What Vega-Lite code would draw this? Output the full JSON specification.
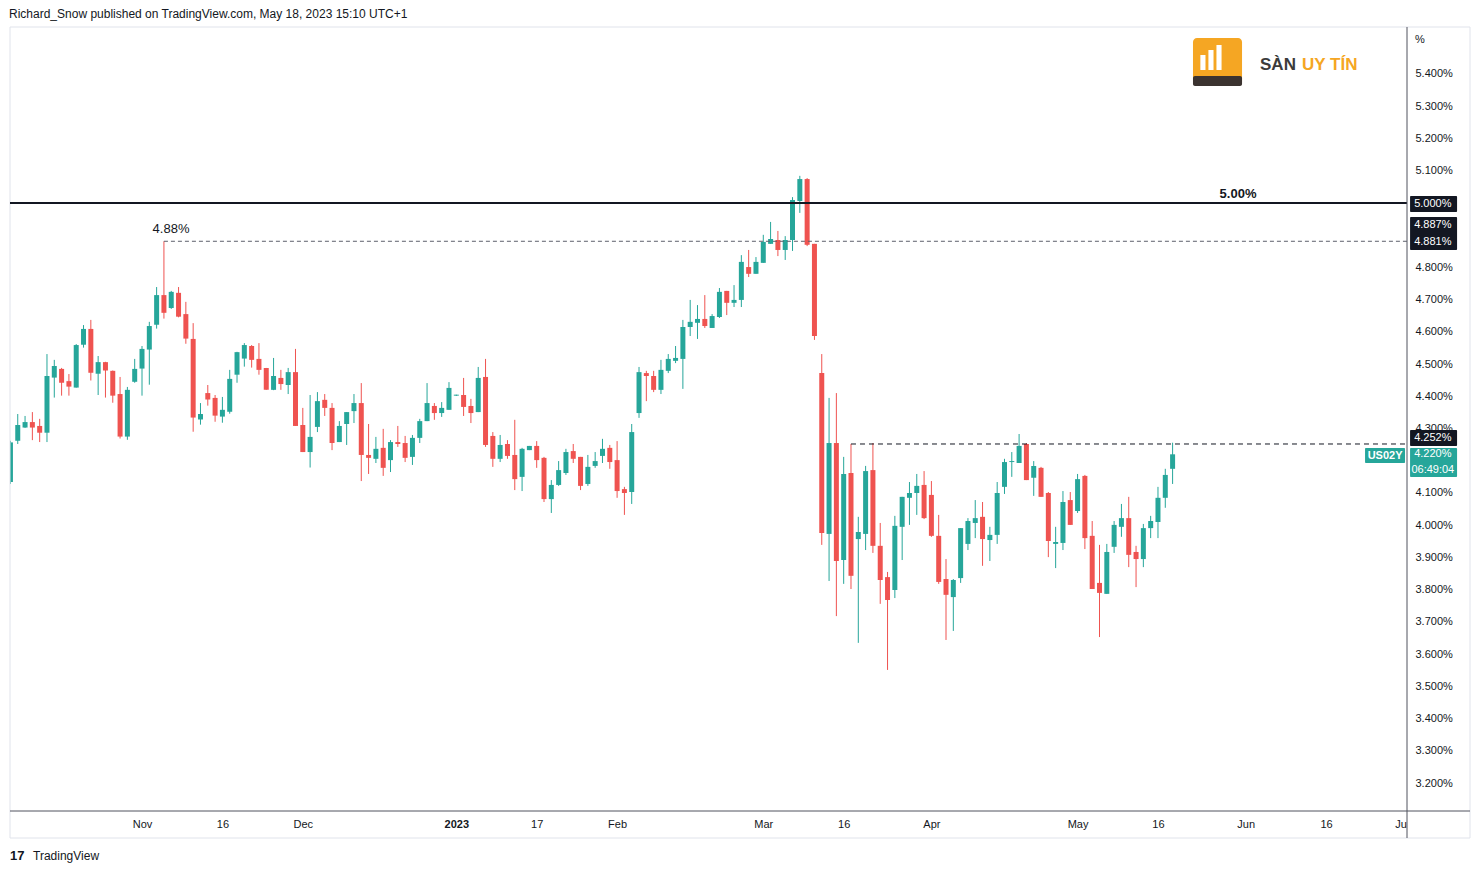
{
  "$schema": "https://vega.github.io/schema/vega-lite/v6.json",
  "width": 1397,
  "height": 784,
  "autosize": {"type": "none"},
  "padding": {"left": 10, "top": 27, "right": 74, "bottom": 63},
  "background": "white",
  "title": {"text": "Richard_Snow published on TradingView.com, May 18, 2023 15:10 UTC+1", "anchor": "start", "fontSize": 12, "fontWeight": "normal", "color": "#131722", "font": "Liberation Sans", "offset": 6},
  "config": {
    "view": {"stroke": null},
    "font": "Liberation Sans",
    "axis": {"grid": false, "ticks": false, "tickSize": 0, "domain": false, "labelFont": "Liberation Sans", "labelFontSize": 11, "labelColor": "#131722", "labelOverlap": false}
  },
  "datasets": {
    "candles": [
      {"i":-18,"o":4.134,"h":4.262,"l":4.128,"c":4.257},
      {"i":-17,"o":4.262,"h":4.345,"l":4.252,"c":4.311},
      {"i":-16,"o":4.303,"h":4.339,"l":4.302,"c":4.320},
      {"i":-15,"o":4.320,"h":4.351,"l":4.264,"c":4.303},
      {"i":-14,"o":4.308,"h":4.330,"l":4.258,"c":4.287},
      {"i":-13,"o":4.287,"h":4.531,"l":4.258,"c":4.463},
      {"i":-12,"o":4.458,"h":4.513,"l":4.396,"c":4.494},
      {"i":-11,"o":4.485,"h":4.488,"l":4.402,"c":4.442},
      {"i":-10,"o":4.447,"h":4.469,"l":4.402,"c":4.430},
      {"i":-9,"o":4.427,"h":4.562,"l":4.427,"c":4.559},
      {"i":-8,"o":4.560,"h":4.621,"l":4.551,"c":4.609},
      {"i":-7,"o":4.609,"h":4.637,"l":4.449,"c":4.473},
      {"i":-6,"o":4.470,"h":4.525,"l":4.404,"c":4.506},
      {"i":-5,"o":4.506,"h":4.507,"l":4.396,"c":4.480},
      {"i":-4,"o":4.479,"h":4.480,"l":4.380,"c":4.402},
      {"i":-3,"o":4.407,"h":4.460,"l":4.269,"c":4.275},
      {"i":-2,"o":4.275,"h":4.429,"l":4.265,"c":4.420},
      {"i":-1,"o":4.445,"h":4.516,"l":4.442,"c":4.485},
      {"i":0,"o":4.486,"h":4.556,"l":4.402,"c":4.547},
      {"i":1,"o":4.545,"h":4.631,"l":4.436,"c":4.618},
      {"i":2,"o":4.622,"h":4.739,"l":4.610,"c":4.714},
      {"i":3,"o":4.714,"h":4.881,"l":4.641,"c":4.659},
      {"i":4,"o":4.674,"h":4.727,"l":4.671,"c":4.724},
      {"i":5,"o":4.721,"h":4.739,"l":4.645,"c":4.647},
      {"i":6,"o":4.655,"h":4.693,"l":4.563,"c":4.579},
      {"i":7,"o":4.578,"h":4.627,"l":4.290,"c":4.334},
      {"i":8,"o":4.328,"h":4.379,"l":4.312,"c":4.345},
      {"i":9,"o":4.410,"h":4.435,"l":4.371,"c":4.390},
      {"i":10,"o":4.395,"h":4.404,"l":4.321,"c":4.340},
      {"i":11,"o":4.337,"h":4.398,"l":4.318,"c":4.358},
      {"i":12,"o":4.352,"h":4.482,"l":4.346,"c":4.454},
      {"i":13,"o":4.467,"h":4.538,"l":4.442,"c":4.537},
      {"i":14,"o":4.517,"h":4.565,"l":4.492,"c":4.559},
      {"i":15,"o":4.556,"h":4.559,"l":4.489,"c":4.513},
      {"i":16,"o":4.516,"h":4.565,"l":4.467,"c":4.482},
      {"i":17,"o":4.488,"h":4.488,"l":4.420,"c":4.420},
      {"i":18,"o":4.420,"h":4.519,"l":4.419,"c":4.463},
      {"i":19,"o":4.457,"h":4.482,"l":4.420,"c":4.438},
      {"i":20,"o":4.435,"h":4.488,"l":4.407,"c":4.475},
      {"i":21,"o":4.475,"h":4.547,"l":4.308,"c":4.308},
      {"i":22,"o":4.311,"h":4.364,"l":4.227,"c":4.227},
      {"i":23,"o":4.227,"h":4.404,"l":4.179,"c":4.274},
      {"i":24,"o":4.305,"h":4.413,"l":4.289,"c":4.385},
      {"i":25,"o":4.389,"h":4.407,"l":4.339,"c":4.364},
      {"i":26,"o":4.364,"h":4.379,"l":4.233,"c":4.255},
      {"i":27,"o":4.258,"h":4.323,"l":4.258,"c":4.308},
      {"i":28,"o":4.314,"h":4.351,"l":4.249,"c":4.351},
      {"i":29,"o":4.354,"h":4.407,"l":4.317,"c":4.379},
      {"i":30,"o":4.379,"h":4.441,"l":4.137,"c":4.218},
      {"i":31,"o":4.218,"h":4.314,"l":4.159,"c":4.209},
      {"i":32,"o":4.206,"h":4.274,"l":4.193,"c":4.237},
      {"i":33,"o":4.240,"h":4.299,"l":4.153,"c":4.178},
      {"i":34,"o":4.202,"h":4.264,"l":4.165,"c":4.258},
      {"i":35,"o":4.258,"h":4.308,"l":4.243,"c":4.252},
      {"i":36,"o":4.255,"h":4.277,"l":4.196,"c":4.209},
      {"i":37,"o":4.212,"h":4.280,"l":4.187,"c":4.271},
      {"i":38,"o":4.271,"h":4.330,"l":4.255,"c":4.323},
      {"i":39,"o":4.323,"h":4.441,"l":4.323,"c":4.379},
      {"i":40,"o":4.370,"h":4.379,"l":4.327,"c":4.348},
      {"i":41,"o":4.348,"h":4.382,"l":4.336,"c":4.364},
      {"i":42,"o":4.358,"h":4.444,"l":4.358,"c":4.426},
      {"i":43,"o":4.402,"h":4.405,"l":4.401,"c":4.405},
      {"i":44,"o":4.404,"h":4.457,"l":4.339,"c":4.367},
      {"i":45,"o":4.370,"h":4.392,"l":4.317,"c":4.348},
      {"i":46,"o":4.351,"h":4.491,"l":4.351,"c":4.457},
      {"i":47,"o":4.460,"h":4.516,"l":4.243,"c":4.249},
      {"i":48,"o":4.277,"h":4.289,"l":4.181,"c":4.206},
      {"i":49,"o":4.206,"h":4.280,"l":4.196,"c":4.249},
      {"i":50,"o":4.252,"h":4.264,"l":4.206,"c":4.215},
      {"i":51,"o":4.218,"h":4.327,"l":4.109,"c":4.143},
      {"i":52,"o":4.150,"h":4.240,"l":4.106,"c":4.237},
      {"i":53,"o":4.233,"h":4.246,"l":4.233,"c":4.246},
      {"i":54,"o":4.246,"h":4.261,"l":4.178,"c":4.202},
      {"i":55,"o":4.209,"h":4.212,"l":4.072,"c":4.081},
      {"i":56,"o":4.081,"h":4.140,"l":4.038,"c":4.125},
      {"i":57,"o":4.125,"h":4.199,"l":4.122,"c":4.171},
      {"i":58,"o":4.162,"h":4.237,"l":4.156,"c":4.227},
      {"i":59,"o":4.230,"h":4.252,"l":4.193,"c":4.206},
      {"i":60,"o":4.212,"h":4.212,"l":4.109,"c":4.122},
      {"i":61,"o":4.128,"h":4.218,"l":4.122,"c":4.181},
      {"i":62,"o":4.184,"h":4.227,"l":4.178,"c":4.199},
      {"i":63,"o":4.215,"h":4.268,"l":4.193,"c":4.237},
      {"i":64,"o":4.240,"h":4.249,"l":4.175,"c":4.196},
      {"i":65,"o":4.202,"h":4.261,"l":4.085,"c":4.106},
      {"i":66,"o":4.112,"h":4.119,"l":4.032,"c":4.100},
      {"i":67,"o":4.103,"h":4.314,"l":4.066,"c":4.289},
      {"i":68,"o":4.348,"h":4.491,"l":4.333,"c":4.475},
      {"i":69,"o":4.472,"h":4.479,"l":4.385,"c":4.463},
      {"i":70,"o":4.463,"h":4.479,"l":4.413,"c":4.420},
      {"i":71,"o":4.420,"h":4.513,"l":4.407,"c":4.482},
      {"i":72,"o":4.479,"h":4.531,"l":4.472,"c":4.516},
      {"i":73,"o":4.510,"h":4.556,"l":4.503,"c":4.519},
      {"i":74,"o":4.516,"h":4.637,"l":4.423,"c":4.615},
      {"i":75,"o":4.615,"h":4.699,"l":4.587,"c":4.631},
      {"i":76,"o":4.628,"h":4.683,"l":4.578,"c":4.640},
      {"i":77,"o":4.640,"h":4.714,"l":4.612,"c":4.618},
      {"i":78,"o":4.612,"h":4.655,"l":4.612,"c":4.649},
      {"i":79,"o":4.646,"h":4.736,"l":4.643,"c":4.724},
      {"i":80,"o":4.727,"h":4.727,"l":4.652,"c":4.690},
      {"i":81,"o":4.690,"h":4.745,"l":4.677,"c":4.699},
      {"i":82,"o":4.699,"h":4.838,"l":4.677,"c":4.817},
      {"i":83,"o":4.801,"h":4.854,"l":4.770,"c":4.780},
      {"i":84,"o":4.780,"h":4.832,"l":4.780,"c":4.817},
      {"i":85,"o":4.814,"h":4.901,"l":4.814,"c":4.879},
      {"i":86,"o":4.873,"h":4.941,"l":4.873,"c":4.888},
      {"i":87,"o":4.885,"h":4.913,"l":4.835,"c":4.854},
      {"i":88,"o":4.854,"h":4.897,"l":4.823,"c":4.885},
      {"i":89,"o":4.885,"h":5.018,"l":4.851,"c":5.009},
      {"i":90,"o":5.006,"h":5.084,"l":4.969,"c":5.074},
      {"i":91,"o":5.074,"h":5.077,"l":4.866,"c":4.870},
      {"i":92,"o":4.873,"h":4.873,"l":4.575,"c":4.587},
      {"i":93,"o":4.472,"h":4.531,"l":3.939,"c":3.976},
      {"i":94,"o":3.973,"h":4.395,"l":3.827,"c":4.255},
      {"i":95,"o":4.255,"h":4.410,"l":3.718,"c":3.889},
      {"i":96,"o":3.892,"h":4.212,"l":3.818,"c":4.159},
      {"i":97,"o":4.162,"h":4.252,"l":3.802,"c":3.843},
      {"i":98,"o":3.957,"h":4.026,"l":3.635,"c":3.979},
      {"i":99,"o":3.973,"h":4.184,"l":3.923,"c":4.168},
      {"i":100,"o":4.171,"h":4.255,"l":3.914,"c":3.936},
      {"i":101,"o":3.936,"h":4.007,"l":3.756,"c":3.830},
      {"i":102,"o":3.839,"h":3.855,"l":3.551,"c":3.768},
      {"i":103,"o":3.799,"h":4.029,"l":3.774,"c":3.998},
      {"i":104,"o":3.995,"h":4.088,"l":3.892,"c":4.088},
      {"i":105,"o":4.085,"h":4.134,"l":4.001,"c":4.100},
      {"i":106,"o":4.100,"h":4.159,"l":4.032,"c":4.122},
      {"i":107,"o":4.125,"h":4.168,"l":4.019,"c":4.022},
      {"i":108,"o":4.094,"h":4.137,"l":3.964,"c":3.967},
      {"i":109,"o":3.967,"h":4.032,"l":3.818,"c":3.824},
      {"i":110,"o":3.833,"h":3.895,"l":3.644,"c":3.784},
      {"i":111,"o":3.777,"h":3.833,"l":3.672,"c":3.830},
      {"i":112,"o":3.836,"h":3.991,"l":3.821,"c":3.991},
      {"i":113,"o":3.942,"h":4.022,"l":3.923,"c":4.013},
      {"i":114,"o":4.007,"h":4.078,"l":3.960,"c":4.022},
      {"i":115,"o":4.026,"h":4.072,"l":3.874,"c":3.957},
      {"i":116,"o":3.954,"h":3.995,"l":3.889,"c":3.970},
      {"i":117,"o":3.970,"h":4.134,"l":3.942,"c":4.100},
      {"i":118,"o":4.119,"h":4.206,"l":4.097,"c":4.196},
      {"i":119,"o":4.196,"h":4.227,"l":4.150,"c":4.199},
      {"i":120,"o":4.193,"h":4.283,"l":4.193,"c":4.246},
      {"i":121,"o":4.252,"h":4.255,"l":4.140,"c":4.140},
      {"i":122,"o":4.147,"h":4.199,"l":4.091,"c":4.184},
      {"i":123,"o":4.178,"h":4.181,"l":4.088,"c":4.088},
      {"i":124,"o":4.100,"h":4.103,"l":3.901,"c":3.951},
      {"i":125,"o":3.942,"h":3.995,"l":3.867,"c":3.948},
      {"i":126,"o":3.945,"h":4.106,"l":3.923,"c":4.072},
      {"i":127,"o":4.078,"h":4.103,"l":4.001,"c":4.001},
      {"i":128,"o":4.044,"h":4.159,"l":4.038,"c":4.143},
      {"i":129,"o":4.153,"h":4.156,"l":3.926,"c":3.960},
      {"i":130,"o":3.967,"h":4.013,"l":3.802,"c":3.802},
      {"i":131,"o":3.821,"h":3.939,"l":3.653,"c":3.790},
      {"i":132,"o":3.787,"h":3.942,"l":3.787,"c":3.917},
      {"i":133,"o":3.933,"h":4.013,"l":3.914,"c":4.001},
      {"i":134,"o":3.995,"h":4.066,"l":3.964,"c":4.022},
      {"i":135,"o":4.022,"h":4.088,"l":3.870,"c":3.908},
      {"i":136,"o":3.917,"h":3.936,"l":3.808,"c":3.895},
      {"i":137,"o":3.895,"h":4.004,"l":3.870,"c":3.991},
      {"i":138,"o":3.991,"h":4.029,"l":3.960,"c":4.013},
      {"i":139,"o":4.010,"h":4.119,"l":3.960,"c":4.085},
      {"i":140,"o":4.085,"h":4.175,"l":4.054,"c":4.156},
      {"i":141,"o":4.175,"h":4.256,"l":4.128,"c":4.220}
    ],
    "boxes": [
      {"lo": 4.9718, "hi": 5.0215, "kind": "dark"},
      {"lo": 4.8539, "hi": 4.9563, "kind": "dark"},
      {"lo": 4.2458, "hi": 4.2954, "kind": "dark"},
      {"lo": 4.1496, "hi": 4.2396, "kind": "teal"}
    ],
    "boxtext": [
      {"p": 4.997, "t": "5.000%", "w": "bold"},
      {"p": 4.9315, "t": "4.887%", "w": "bold"},
      {"p": 4.8788, "t": "4.881%", "w": "bold"},
      {"p": 4.2706, "t": "4.252%", "w": "bold"},
      {"p": 4.2225, "t": "4.220%", "w": "bold"},
      {"p": 4.1705, "t": "06:49:04", "w": "normal"}
    ]
  },
  "layer": [
    {
      "data": {"name": "candles"},
      "mark": {"type": "rule", "strokeWidth": 1, "clip": true},
      "encoding": {
        "x": {"field": "i", "type": "quantitative", "scale": {"domain": [-18.06, 173.07], "nice": false, "zero": false, "padding": 0},
          "axis": {"title": null, "orient": "bottom", "values": [0, 11, 22, 43, 54, 65, 85, 96, 108, 128, 139, 151, 162, 173],
            "labelExpr": "datum.value==0?'Nov':datum.value==11?'16':datum.value==22?'Dec':datum.value==43?'2023':datum.value==54?'17':datum.value==65?'Feb':datum.value==85?'Mar':datum.value==96?'16':datum.value==108?'Apr':datum.value==128?'May':datum.value==139?'16':datum.value==151?'Jun':datum.value==162?'16':'Ju'",
            "labelFontWeight": {"condition": {"test": "datum.value == 43", "value": "bold"}, "value": "normal"},
            "labelPadding": 7, "labelBaseline": "top", "labelFlush": true, "labelOverlap": false}},
        "y": {"field": "l", "type": "quantitative", "scale": {"domain": [3.1133, 5.5458], "nice": false, "zero": false},
          "axis": {"title": null, "orient": "right", "tickCount": 24, "values": [3.2, 3.3, 3.4, 3.5, 3.6, 3.7, 3.8, 3.9, 4.0, 4.1, 4.2, 4.3, 4.4, 4.5, 4.6, 4.7, 4.8, 4.9, 5.0, 5.1, 5.2, 5.3, 5.4],
            "labelExpr": "(datum.value > 5.45 || abs(datum.value - 5.0) < 0.01 || abs(datum.value - 4.9) < 0.01 || abs(datum.value - 4.2) < 0.01) ? '' : format(datum.value, '.3f') + '%'",
            "labelPadding": 8, "labelAlign": "left", "labelBaseline": "middle", "labelFlush": false, "labelBound": false, "labelOverlap": false}},
        "y2": {"field": "h"},
        "color": {"condition": {"test": "datum.c >= datum.o", "value": "#26a69a"}, "value": "#ef5350"}
      }
    },
    {
      "data": {"name": "candles"},
      "mark": {"type": "bar", "size": 5, "clip": true},
      "encoding": {
        "x": {"field": "i", "type": "quantitative", "scale": {"domain": [-18.06, 173.07], "nice": false, "zero": false, "padding": 0}, "axis": {"title": null, "labelOverlap": false}},
        "y": {"field": "o", "type": "quantitative", "scale": {"domain": [3.1133, 5.5458], "nice": false, "zero": false}, "axis": {"title": null, "orient": "right", "labelOverlap": false, "tickCount": 24}},
        "y2": {"field": "c"},
        "color": {"condition": {"test": "datum.c >= datum.o", "value": "#26a69a"}, "value": "#ef5350"}
      }
    },
    {
      "data": {"values": [{}]},
      "mark": {"type": "rect", "fillOpacity": 0, "stroke": "#e0e3eb", "strokeWidth": 1},
      "encoding": {
        "x": {"datum": -18.06, "type": "quantitative", "scale": {"domain": [-18.06, 173.07], "nice": false, "zero": false, "padding": 0}, "axis": {"title": null, "labelOverlap": false}},
        "x2": {"datum": 181.69},
        "y": {"datum": 5.5458, "type": "quantitative", "scale": {"domain": [3.1133, 5.5458], "nice": false, "zero": false}, "axis": {"title": null, "orient": "right", "labelOverlap": false, "tickCount": 24}},
        "y2": {"datum": 3.0295}
      }
    },
    {
      "data": {"values": [{}]},
      "mark": {"type": "rule", "color": "#131722", "strokeWidth": 2},
      "encoding": {
        "y": {"datum": 5.0, "type": "quantitative", "scale": {"domain": [3.1133, 5.5458], "nice": false, "zero": false}, "axis": {"title": null, "orient": "right", "labelOverlap": false, "tickCount": 24}}
      }
    },
    {
      "data": {"values": [{}]},
      "mark": {"type": "rule", "color": "#5d606b", "strokeWidth": 1, "strokeDash": [4, 3]},
      "encoding": {
        "x": {"datum": 3, "type": "quantitative", "scale": {"domain": [-18.06, 173.07], "nice": false, "zero": false, "padding": 0}, "axis": {"title": null, "labelOverlap": false}},
        "x2": {"datum": 173.07},
        "y": {"datum": 4.881, "type": "quantitative", "scale": {"domain": [3.1133, 5.5458], "nice": false, "zero": false}, "axis": {"title": null, "orient": "right", "labelOverlap": false, "tickCount": 24}}
      }
    },
    {
      "data": {"values": [{}]},
      "mark": {"type": "rule", "color": "#131722", "strokeWidth": 1, "strokeDash": [5, 4]},
      "encoding": {
        "x": {"datum": 97, "type": "quantitative", "scale": {"domain": [-18.06, 173.07], "nice": false, "zero": false, "padding": 0}, "axis": {"title": null, "labelOverlap": false}},
        "x2": {"datum": 173.07},
        "y": {"datum": 4.252, "type": "quantitative", "scale": {"domain": [3.1133, 5.5458], "nice": false, "zero": false}, "axis": {"title": null, "orient": "right", "labelOverlap": false, "tickCount": 24}}
      }
    },
    {
      "data": {"values": [{}]},
      "mark": {"type": "text", "text": "4.88%", "fontSize": 13, "color": "#131722", "align": "center", "baseline": "middle"},
      "encoding": {
        "x": {"datum": 3.97, "type": "quantitative", "scale": {"domain": [-18.06, 173.07], "nice": false, "zero": false, "padding": 0}, "axis": {"title": null, "labelOverlap": false}},
        "y": {"datum": 4.919, "type": "quantitative", "scale": {"domain": [3.1133, 5.5458], "nice": false, "zero": false}, "axis": {"title": null, "orient": "right", "labelOverlap": false, "tickCount": 24}}
      }
    },
    {
      "data": {"values": [{}]},
      "mark": {"type": "text", "text": "5.00%", "fontSize": 13, "fontWeight": "bold", "color": "#131722", "align": "center", "baseline": "middle"},
      "encoding": {
        "x": {"datum": 149.95, "type": "quantitative", "scale": {"domain": [-18.06, 173.07], "nice": false, "zero": false, "padding": 0}, "axis": {"title": null, "labelOverlap": false}},
        "y": {"datum": 5.0277, "type": "quantitative", "scale": {"domain": [3.1133, 5.5458], "nice": false, "zero": false}, "axis": {"title": null, "orient": "right", "labelOverlap": false, "tickCount": 24}}
      }
    },
    {
      "data": {"values": [{}]},
      "mark": {"type": "rule", "color": "#50535e", "strokeWidth": 1},
      "encoding": {
        "x": {"datum": 173.07, "type": "quantitative", "scale": {"domain": [-18.06, 173.07], "nice": false, "zero": false, "padding": 0}, "axis": {"title": null, "labelOverlap": false}},
        "y": {"datum": 5.5458, "type": "quantitative", "scale": {"domain": [3.1133, 5.5458], "nice": false, "zero": false}, "axis": {"title": null, "orient": "right", "labelOverlap": false, "tickCount": 24}},
        "y2": {"datum": 3.0295}
      }
    },
    {
      "data": {"values": [{}]},
      "mark": {"type": "rule", "color": "#50535e", "strokeWidth": 1},
      "encoding": {
        "x": {"datum": -18.06, "type": "quantitative", "scale": {"domain": [-18.06, 173.07], "nice": false, "zero": false, "padding": 0}, "axis": {"title": null, "labelOverlap": false}},
        "x2": {"datum": 181.69},
        "y": {"datum": 3.1133, "type": "quantitative", "scale": {"domain": [3.1133, 5.5458], "nice": false, "zero": false}, "axis": {"title": null, "orient": "right", "labelOverlap": false, "tickCount": 24}}
      }
    },
    {
      "data": {"name": "boxes"},
      "mark": {"type": "rect", "cornerRadius": 1},
      "encoding": {
        "x": {"datum": 173.49, "type": "quantitative", "scale": {"domain": [-18.06, 173.07], "nice": false, "zero": false, "padding": 0}, "axis": {"title": null, "labelOverlap": false}},
        "x2": {"datum": 179.92},
        "y": {"field": "lo", "type": "quantitative", "scale": {"domain": [3.1133, 5.5458], "nice": false, "zero": false}, "axis": {"title": null, "orient": "right", "labelOverlap": false, "tickCount": 24}},
        "y2": {"field": "hi"},
        "color": {"condition": {"test": "datum.kind == 'teal'", "value": "#26a69a"}, "value": "#131722"}
      }
    },
    {
      "data": {"name": "boxtext"},
      "mark": {"type": "text", "fontSize": 11, "color": "white", "align": "center", "baseline": "middle"},
      "encoding": {
        "x": {"datum": 176.6, "type": "quantitative", "scale": {"domain": [-18.06, 173.07], "nice": false, "zero": false, "padding": 0}, "axis": {"title": null, "labelOverlap": false}},
        "y": {"field": "p", "type": "quantitative", "scale": {"domain": [3.1133, 5.5458], "nice": false, "zero": false}, "axis": {"title": null, "orient": "right", "labelOverlap": false, "tickCount": 24}},
        "text": {"field": "t"},
        "fontWeight": {"condition": {"test": "datum.w == 'bold'", "value": "bold"}, "value": "normal"}
      }
    },
    {
      "data": {"values": [{}]},
      "mark": {"type": "rect", "color": "#26a69a", "cornerRadius": 1},
      "encoding": {
        "x": {"datum": 167.33, "type": "quantitative", "scale": {"domain": [-18.06, 173.07], "nice": false, "zero": false, "padding": 0}, "axis": {"title": null, "labelOverlap": false}},
        "x2": {"datum": 172.8},
        "y": {"datum": 4.2396, "type": "quantitative", "scale": {"domain": [3.1133, 5.5458], "nice": false, "zero": false}, "axis": {"title": null, "orient": "right", "labelOverlap": false, "tickCount": 24}},
        "y2": {"datum": 4.1931}
      }
    },
    {
      "data": {"values": [{}]},
      "mark": {"type": "text", "text": "US02Y", "fontSize": 11, "fontWeight": "bold", "color": "white", "align": "center", "baseline": "middle"},
      "encoding": {
        "x": {"datum": 170.07, "type": "quantitative", "scale": {"domain": [-18.06, 173.07], "nice": false, "zero": false, "padding": 0}, "axis": {"title": null, "labelOverlap": false}},
        "y": {"datum": 4.2155, "type": "quantitative", "scale": {"domain": [3.1133, 5.5458], "nice": false, "zero": false}, "axis": {"title": null, "orient": "right", "labelOverlap": false, "tickCount": 24}}
      }
    },
    {
      "data": {"values": [{}]},
      "mark": {"type": "text", "text": "%", "fontSize": 11, "color": "#131722", "align": "center", "baseline": "middle"},
      "encoding": {
        "x": {"datum": 174.85, "type": "quantitative", "scale": {"domain": [-18.06, 173.07], "nice": false, "zero": false, "padding": 0}, "axis": {"title": null, "labelOverlap": false}},
        "y": {"datum": 5.5055, "type": "quantitative", "scale": {"domain": [3.1133, 5.5458], "nice": false, "zero": false}, "axis": {"title": null, "orient": "right", "labelOverlap": false, "tickCount": 24}}
      }
    },
    {
      "data": {"values": [{}]},
      "mark": {"type": "rect", "color": "#f5a623", "cornerRadius": 4},
      "encoding": {
        "x": {"datum": 143.79, "type": "quantitative", "scale": {"domain": [-18.06, 173.07], "nice": false, "zero": false, "padding": 0}, "axis": {"title": null, "labelOverlap": false}},
        "x2": {"datum": 150.5},
        "y": {"datum": 5.5117, "type": "quantitative", "scale": {"domain": [3.1133, 5.5458], "nice": false, "zero": false}, "axis": {"title": null, "orient": "right", "labelOverlap": false, "tickCount": 24}},
        "y2": {"datum": 5.3628}
      }
    },
    {
      "data": {"values": [{}]},
      "mark": {"type": "rect", "color": "#3b3330", "cornerRadius": 2},
      "encoding": {
        "x": {"datum": 143.79, "type": "quantitative", "scale": {"domain": [-18.06, 173.07], "nice": false, "zero": false, "padding": 0}, "axis": {"title": null, "labelOverlap": false}},
        "x2": {"datum": 150.5},
        "y": {"datum": 5.3938, "type": "quantitative", "scale": {"domain": [3.1133, 5.5458], "nice": false, "zero": false}, "axis": {"title": null, "orient": "right", "labelOverlap": false, "tickCount": 24}},
        "y2": {"datum": 5.3628}
      }
    },
    {
      "data": {"values": [{"b": 144.8, "e": 145.5, "t": 5.4590}, {"b": 145.9, "e": 146.6, "t": 5.4745}, {"b": 147.0, "e": 147.7, "t": 5.4900}]},
      "mark": {"type": "rect", "color": "white"},
      "encoding": {
        "x": {"field": "b", "type": "quantitative", "scale": {"domain": [-18.06, 173.07], "nice": false, "zero": false, "padding": 0}, "axis": {"title": null, "labelOverlap": false}},
        "x2": {"field": "e"},
        "y": {"field": "t", "type": "quantitative", "scale": {"domain": [3.1133, 5.5458], "nice": false, "zero": false}, "axis": {"title": null, "orient": "right", "labelOverlap": false, "tickCount": 24}},
        "y2": {"datum": 5.4124}
      }
    },
    {
      "data": {"values": [{}]},
      "mark": {"type": "text", "text": "SÀN", "fontSize": 17, "fontWeight": "bold", "color": "#3b3b3b", "align": "left", "baseline": "middle"},
      "encoding": {
        "x": {"datum": 152.96, "type": "quantitative", "scale": {"domain": [-18.06, 173.07], "nice": false, "zero": false, "padding": 0}, "axis": {"title": null, "labelOverlap": false}},
        "y": {"datum": 5.4279, "type": "quantitative", "scale": {"domain": [3.1133, 5.5458], "nice": false, "zero": false}, "axis": {"title": null, "orient": "right", "labelOverlap": false, "tickCount": 24}}
      }
    },
    {
      "data": {"values": [{}]},
      "mark": {"type": "text", "text": "UY TÍN", "fontSize": 17, "fontWeight": "bold", "color": "#f5a623", "align": "left", "baseline": "middle"},
      "encoding": {
        "x": {"datum": 158.71, "type": "quantitative", "scale": {"domain": [-18.06, 173.07], "nice": false, "zero": false, "padding": 0}, "axis": {"title": null, "labelOverlap": false}},
        "y": {"datum": 5.4279, "type": "quantitative", "scale": {"domain": [3.1133, 5.5458], "nice": false, "zero": false}, "axis": {"title": null, "orient": "right", "labelOverlap": false, "tickCount": 24}}
      }
    },
    {
      "data": {"values": [{}]},
      "mark": {"type": "text", "text": "17", "fontSize": 13, "fontWeight": "bold", "color": "#131722", "align": "left", "baseline": "middle"},
      "encoding": {
        "x": {"datum": -18.06, "type": "quantitative", "scale": {"domain": [-18.06, 173.07], "nice": false, "zero": false, "padding": 0}, "axis": {"title": null, "labelOverlap": false}},
        "y": {"datum": 2.9736, "type": "quantitative", "scale": {"domain": [3.1133, 5.5458], "nice": false, "zero": false}, "axis": {"title": null, "orient": "right", "labelOverlap": false, "tickCount": 24}}
      }
    },
    {
      "data": {"values": [{}]},
      "mark": {"type": "text", "text": "TradingView", "fontSize": 12, "color": "#131722", "align": "left", "baseline": "middle"},
      "encoding": {
        "x": {"datum": -14.91, "type": "quantitative", "scale": {"domain": [-18.06, 173.07], "nice": false, "zero": false, "padding": 0}, "axis": {"title": null, "labelOverlap": false}},
        "y": {"datum": 2.9736, "type": "quantitative", "scale": {"domain": [3.1133, 5.5458], "nice": false, "zero": false}, "axis": {"title": null, "orient": "right", "labelOverlap": false, "tickCount": 24}}
      }
    }
  ]
}
